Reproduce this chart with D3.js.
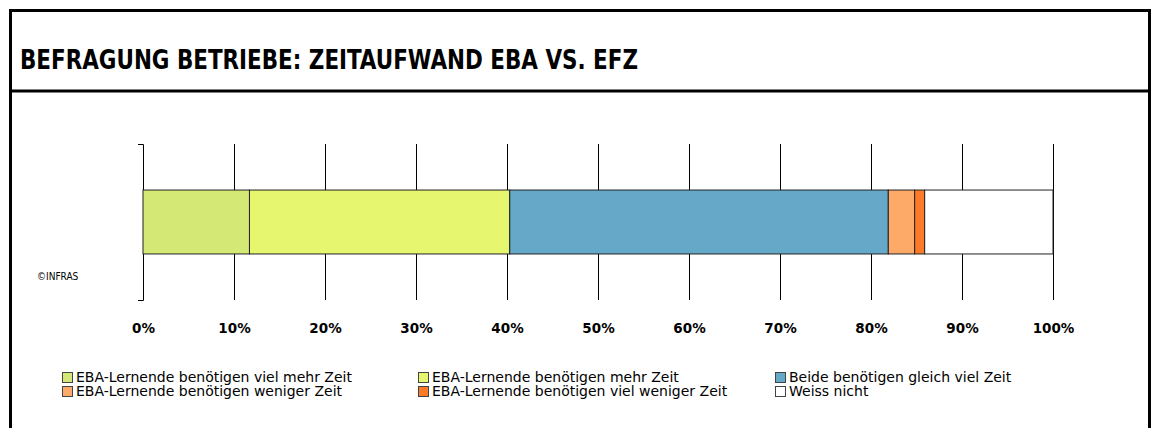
<!DOCTYPE html>
<html>
<head>
<meta charset="utf-8">
<script src="https://cdn.jsdelivr.net/npm/d3@7"></script>
<style>
  html, body { margin: 0; padding: 0; background: #fff; }
  svg { display: block; }
</style>
</head>
<body>
<svg id="chart" width="1154" height="428"></svg>
<script>
// ---- data ----
const title = "BEFRAGUNG BETRIEBE: ZEITAUFWAND EBA VS. EFZ";
const categories = [""];
const seriesNames = [
  "EBA-Lernende benötigen viel mehr Zeit",
  "EBA-Lernende benötigen mehr Zeit",
  "Beide benötigen gleich viel Zeit",
  "EBA-Lernende benötigen weniger Zeit",
  "EBA-Lernende benötigen viel weniger Zeit",
  "Weiss nicht"
];
const seriesValues = [11.7, 28.6, 41.6, 2.9, 1.1, 14.1];
const seriesColors = ["#d3e875", "#e7f66f", "#66a8c8", "#fdaa68", "#fd7a28", "#ffffff"];
const tickValues = [0, 10, 20, 30, 40, 50, 60, 70, 80, 90, 100];
const tickLabels = ["0%", "10%", "20%", "30%", "40%", "50%", "60%", "70%", "80%", "90%", "100%"];
const sourceNote = "©INFRAS";

// ---- layout ----
const svg = d3.select("#chart");
const W = 1154, H = 428;

// frame
svg.append("path")
  .attr("d", `M10.5,${H} V10.5 H1149.5 V${H}`)
  .attr("fill", "none").attr("stroke", "#000").attr("stroke-width", 3);
svg.append("line")
  .attr("x1", 10.5).attr("x2", 1149.5).attr("y1", 91).attr("y2", 91)
  .attr("stroke", "#000").attr("stroke-width", 3);

svg.append("text")
  .attr("x", 20).attr("y", 69)
  .attr("font-family", "'DejaVu Sans Condensed', 'DejaVu Sans', sans-serif")
  .attr("font-weight", "bold").attr("font-size", 26)
  .attr("textLength", 618).attr("lengthAdjust", "spacingAndGlyphs")
  .attr("fill", "#000")
  .text(title);

// scales
const x = d3.scaleLinear().domain([0, 100]).range([143, 1053]);
const yOuter = d3.scaleLinear().domain([0, 1]).range([144, 300]);
const y = d3.scaleBand().domain(categories).range([144, 300]).paddingInner(0).paddingOuter(0.72);

// gridlines (vertical)
const grid = svg.append("g").attr("transform", "translate(0,300)")
  .call(d3.axisBottom(x).tickValues(tickValues.slice(1)).tickSize(156).tickSizeOuter(0).tickFormat(""));
grid.select(".domain").remove();
grid.selectAll(".tick line").attr("y2", -156).attr("stroke", "#000").attr("stroke-width", 1);

// left axis bracket
const yAxis = svg.append("g").attr("transform", "translate(143,0)")
  .call(d3.axisLeft(yOuter).tickValues([]).tickSizeOuter(5));
yAxis.select(".domain").attr("stroke", "#000").attr("stroke-width", 1);

// stacked bar
const stackData = [];
let acc = 0;
seriesValues.forEach((v, i) => { stackData.push({ x0: acc, x1: acc + v, color: seriesColors[i] }); acc += v; });
categories.forEach(cat => {
  svg.append("g").selectAll("rect").data(stackData).join("rect")
    .attr("x", d => x(d.x0))
    .attr("width", d => x(d.x1) - x(d.x0))
    .attr("y", y(cat))
    .attr("height", y.bandwidth())
    .attr("fill", d => d.color)
    .attr("stroke", "#222").attr("stroke-width", 1);
});

// tick labels
const ax = svg.append("g").attr("transform", "translate(0,300)")
  .call(d3.axisBottom(x).tickValues(tickValues).tickSize(0).tickPadding(0)
    .tickFormat((d, i) => tickLabels[i]));
ax.select(".domain").remove();
ax.selectAll("text")
  .attr("y", 33).attr("dy", null)
  .attr("font-family", "'DejaVu Sans', sans-serif")
  .attr("font-weight", "bold").attr("font-size", 13.5).attr("fill", "#000");

// source note
svg.append("text").attr("x", 37).attr("y", 280)
  .attr("font-family", "'DejaVu Sans Condensed', 'DejaVu Sans', sans-serif")
  .attr("font-size", 10).attr("fill", "#000").text(sourceNote);

// legend
const legCols = [62, 418, 775];
const legRows = [382, 396];
const legOrder = [0, 1, 2, 3, 4, 5];
const leg = svg.append("g").selectAll("g").data(legOrder).join("g")
  .attr("transform", (d, i) => `translate(${legCols[i % 3]},${legRows[Math.floor(i / 3)]})`);
leg.append("rect").attr("x", 0.5).attr("y", -9.5).attr("width", 10).attr("height", 10)
  .attr("fill", d => seriesColors[d]).attr("stroke", "#444").attr("stroke-width", 1);
leg.append("text").attr("x", 14).attr("y", 0)
  .attr("font-family", "'DejaVu Sans', sans-serif")
  .attr("font-size", 14).attr("fill", "#000")
  .text(d => seriesNames[d]);
</script>
</body>
</html>
